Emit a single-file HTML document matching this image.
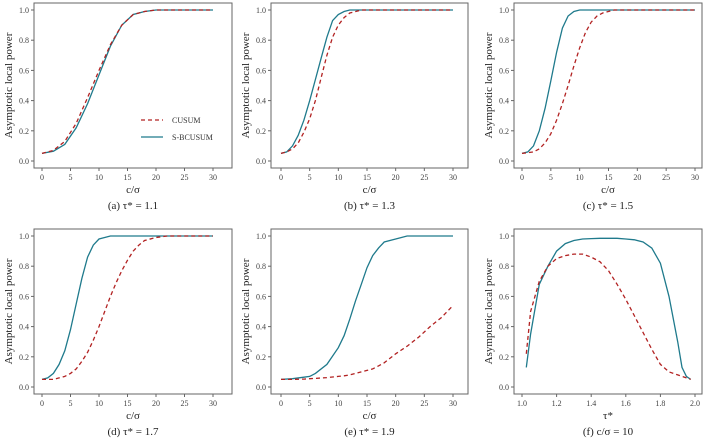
<!DOCTYPE html>
<html><head><meta charset="utf-8"><style>
body{margin:0;background:#fff;}
svg{display:block;}
svg text{font-family:"Liberation Serif","Times New Roman",serif;}
</style></head><body>
<svg id="c" width="708" height="442"></svg>
<script>
const cGrid=[0,2,4,6,8,10,12,14,16,18,20,30];
const aCusum=[.05,.07,.13,.25,.42,.6,.77,.9,.97,.99,1,1];
const aSb=[.05,.065,.11,.22,.38,.57,.76,.9,.97,.99,1,1];
const bX=[0,1,2,3,4,5,6,7,8,9,10,11,12,14,30];
const bCusum=[.05,.06,.08,.12,.19,.28,.4,.55,.7,.82,.9,.95,.98,1,1];
const bSb=[.05,.06,.1,.17,.27,.4,.54,.68,.82,.93,.97,.99,1,1,1];
const cX=[0,1,2,3,4,5,6,7,8,9,10,11,12,13,14,16,30];
const cCusum=[.05,.055,.06,.08,.12,.18,.27,.38,.5,.63,.75,.85,.92,.96,.98,1,1];
const cSb=[.05,.06,.1,.2,.35,.53,.72,.88,.96,.99,1,1,1,1,1,1,1];
const dX=[0,1,2,3,4,5,6,7,8,9,10,11,12,13,14,15,16,17,18,20,22,30];
const dCusum=[.05,.05,.05,.06,.07,.09,.12,.17,.23,.31,.4,.5,.6,.69,.77,.84,.9,.94,.97,.99,1,1];
const dSb=[.05,.06,.09,.15,.24,.38,.55,.72,.86,.94,.98,.99,1,1,1,1,1,1,1,1,1,1];
const eX=[0,2,4,5,6,8,10,11,12,13,14,15,16,17,18,20,22,24,26,28,30];
const eCusum=[.05,.05,.052,.055,.057,.062,.07,.074,.08,.09,.1,.11,.12,.14,.16,.22,.27,.33,.4,.46,.54];
const eSb=[.05,.055,.065,.07,.09,.15,.26,.34,.45,.57,.68,.79,.87,.92,.96,.98,1,1,1,1,1];
const fX=[1.025,1.05,1.1,1.15,1.2,1.25,1.3,1.35,1.4,1.45,1.5,1.55,1.6,1.65,1.7,1.75,1.8,1.85,1.9,1.925,1.95,1.975];
const fCusum=[.22,.5,.7,.8,.85,.87,.88,.88,.86,.83,.77,.68,.58,.47,.36,.25,.15,.1,.08,.07,.06,.05];
const fSb=[.13,.35,.68,.8,.9,.95,.97,.98,.983,.985,.985,.985,.98,.975,.96,.92,.82,.6,.3,.13,.07,.05];
const xTicksC=[0,5,10,15,20,25,30];
const xTicksT=[1.0,1.2,1.4,1.6,1.8,2.0];
const yTicks=[0,0.2,0.4,0.6,0.8,1.0];
const captions=["(a) τ* = 1.1","(b) τ* = 1.3","(c) τ* = 1.5","(d) τ* = 1.7","(e) τ* = 1.9","(f)  c/σ = 10"];
const NS="http://www.w3.org/2000/svg";
const svg=document.getElementById('c');
function mk(t,a,p){const e=document.createElementNS(NS,t);for(const k in a)e.setAttribute(k,a[k]);(p||svg).appendChild(e);return e;}
const panels=[
 {x:cGrid,c:aCusum,s:aSb,col:0,row:0},
 {x:bX,c:bCusum,s:bSb,col:1,row:0},
 {x:cX,c:cCusum,s:cSb,col:2,row:0},
 {x:dX,c:dCusum,s:dSb,col:0,row:1},
 {x:eX,c:eCusum,s:eSb,col:1,row:1},
 {x:fX,c:fCusum,s:fSb,col:2,row:1,tau:true}];
const colB=[[34,232,42,213],[271,468,281,453],[514,702,522,695]];
panels.forEach((p,i)=>{
 const g=mk('g',{});
 
 
 const [bl,br,x0p,x1p]=colB[p.col];
 const dy=p.row?226:0;
 const bt=3+dy,bb=168+dy,y0=161+dy,y1=10+dy;
 const xmin=p.tau?1:0,xmax=p.tau?2:30;
 const X=v=>x0p+(v-xmin)/(xmax-xmin)*(x1p-x0p);
 const Y=v=>y0+v*(y1-y0);
 const box=mk('rect',{x:bl,y:bt,width:br-bl,height:bb-bt,fill:'none',stroke:'#666','stroke-width':1},g);
 
 
 yTicks.forEach(t=>{
  mk('line',{x1:bl-3,x2:bl,y1:Y(t),y2:Y(t),stroke:'#666'},g);
  const tx=mk('text',{x:bl-5,y:Y(t)+3,'font-size':8,'text-anchor':'end',fill:'#444'},g);
  tx.textContent=t.toFixed(1);
  
  
 });
 const xt=p.tau?xTicksT:xTicksC;
 xt.forEach(t=>{
  mk('line',{x1:X(t),x2:X(t),y1:bb,y2:bb+3,stroke:'#666'},g);
  const tx=mk('text',{x:X(t),y:bb+12,'font-size':8,'text-anchor':'middle',fill:'#444'},g);
  tx.textContent=p.tau?t.toFixed(1):t;
  
  
 });
 const yl=mk('text',{x:0,y:0,'font-size':11,'text-anchor':'middle',fill:'#222',transform:`translate(${bl-22},${(bt+bb)/2}) rotate(-90)`},g);
 yl.textContent='Asymptotic local power';
 
 
 const xl=mk('text',{x:(bl+br)/2,y:bb+25,'font-size':11,'text-anchor':'middle',fill:'#222'},g);
 xl.textContent=p.tau?'τ*':'c/σ';
 
 
 const cap=mk('text',{x:(bl+br)/2,y:bb+41,'font-size':11,'text-anchor':'middle',fill:'#222'},g);
 cap.textContent=captions[i];
 
 
 const pts=a=>a.map((v,k)=>X(p.x[k]).toFixed(1)+','+Y(v).toFixed(1)).join(' ');
 const ls=mk('polyline',{points:pts(p.s),fill:'none',stroke:'#1f7a8c','stroke-width':1.3},g);
 
 
 const lc=mk('polyline',{points:pts(p.c),fill:'none',stroke:'#b22222','stroke-width':1.3,'stroke-dasharray':'4,3'},g);
 
 
 if(i===0){
  const lg=mk('g',{},g);
  
  
  mk('line',{x1:141,x2:163,y1:120,y2:120,stroke:'#b22222','stroke-width':1.3,'stroke-dasharray':'4,3'},lg);
  const t1=mk('text',{x:172,y:123,'font-size':8,fill:'#333'},lg);t1.textContent='CUSUM';
  
  
  mk('line',{x1:141,x2:163,y1:137,y2:137,stroke:'#1f7a8c','stroke-width':1.3},lg);
  const t2=mk('text',{x:172,y:140,'font-size':8,fill:'#333'},lg);t2.textContent='S-BCUSUM';
  
  
 }
});
</script>
</body></html>
